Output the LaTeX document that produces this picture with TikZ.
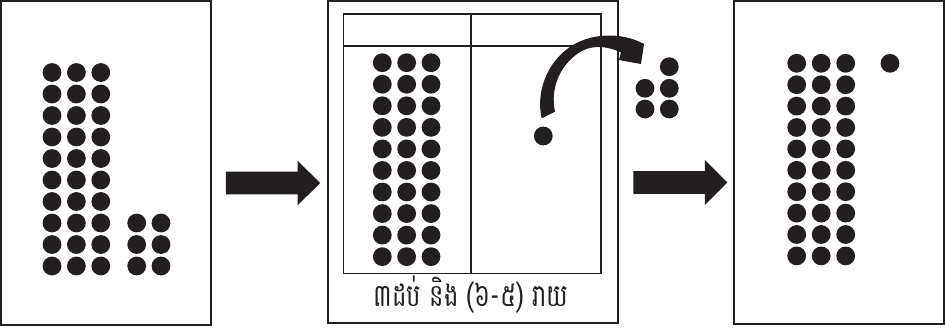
\documentclass[tikz,border=0pt]{standalone}
\usepackage{fontspec}
\newfontfamily\khmerfont[Script=Khmer]{Battambang}
\usetikzlibrary{positioning,calc}
\definecolor{ink}{HTML}{231F20}

\begin{document}
\begin{tikzpicture}[
  x=1pt, y=-1pt,
  panel/.style={draw=ink, line width=1.9pt, inner sep=0pt, fill=white},
  tablebox/.style={draw=ink, line width=1.3pt, inner sep=0pt},
  rule/.style={draw=ink, line width=1.3pt},
  dot/.style={fill=ink},
  blockarrow/.style={fill=ink},
  caption/.style={font=\khmerfont\fontsize{25}{28}\selectfont, text=ink, inner sep=0pt}
]
  \useasboundingbox (0,0) rectangle (945,327);

  % the three panels
  \node[panel, minimum width=210, minimum height=324] (before) at (106,163) {};
  \node[panel, minimum width=289.4, minimum height=322.3] (middle) at (473,162.2) {};
  \node[panel, minimum width=209.7, minimum height=323] (after) at (839.2,162.5) {};

  % place value table
  \node[tablebox, minimum width=257.7, minimum height=259.3] (tbl) at (472.2,143.7) {};
  \draw[rule] ([yshift=-32.7pt]tbl.north west) -- ([yshift=-32.7pt]tbl.north east);
  \draw[rule] ([xshift=128.4pt]tbl.north west) -- ([xshift=128.4pt]tbl.south west);
  \node[caption, anchor=base] (cap) at (471,306.5) {\scalebox{0.97}[1.25]{៣ដប់ និង (៦-៥) រាយ}};

  % dots, left panel
  \foreach \c in {0,1,2}
    \foreach \r in {0,...,9}
      \fill[dot] (52+24.4*\c,72.5+21.5*\r) circle (9.4pt);
  \foreach \c in {0,1}
    \foreach \r in {7,8,9}
      \fill[dot] (136.7+24.3*\c,72.5+21.5*\r) circle (9.4pt);

  % dots, middle panel
  \foreach \c in {0,1,2}
    \foreach \r in {0,...,9}
      \fill[dot] (382.3+24.35*\c,62.7+21.55*\r) circle (9.4pt);
  \fill[dot] (543.3,136) circle (9.4pt);
  \foreach \p in {(669.3,66.7),(645,88.3),(669.3,88.3),(645,109),(669.3,109)}
    \fill[dot] \p circle (9.4pt);

  % dots, right panel
  \foreach \c in {0,1,2}
    \foreach \r in {0,...,9}
      \fill[dot] (796.7+24.5*\c,63.3+21.4*\r) circle (9.4pt);
  \fill[dot] (890,63.3) circle (9.4pt);

  % curved arrow
  \fill[ink] (541.7,118.3) .. controls (536,95) and (545,62) .. (573,45)
    .. controls (593,33) and (622,32) .. (644,44) -- (641,64) -- (619,60)
    -- (621,52.5) .. controls (605,45) and (590,45) .. (578,53.3)
    .. controls (560,66) and (550,88) .. (555,111.7) -- cycle;

  % block arrows
  \coordinate (a1) at ($(before.east)+(14,20)$);
  \coordinate (a2) at ($(middle.east)+(14.6,20.3)$);
  \foreach \a in {a1,a2}
    \fill[blockarrow] (\a) ++(0,-11.3) -- ++(71.7,0) -- ++(0,-11) -- ++(22.4,22.3)
      -- ++(-22.4,22.3) -- ++(0,-11) -- ++(-71.7,0) -- cycle;
\end{tikzpicture}
\end{document}
